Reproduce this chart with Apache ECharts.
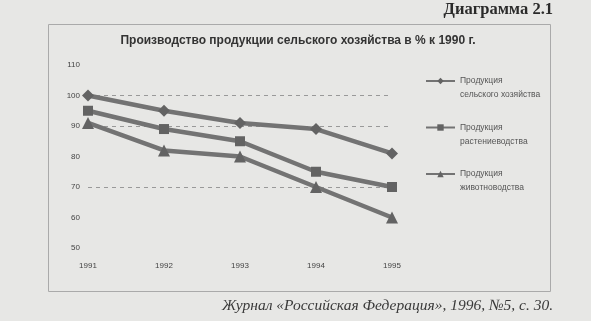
<!DOCTYPE html>
<html><head><meta charset="utf-8">
<script src="https://cdn.jsdelivr.net/npm/echarts@6/dist/echarts.min.js"></script>
<style>html,body{margin:0;padding:0;background:#e7e7e5;}#c{width:591px;height:321px;}</style>
</head><body><div id="c"></div>
<script>
const years = ['1991', '1992', '1993', '1994', '1995'];
const agriculture = [100, 95, 91, 89, 81];
const cropProduction = [95, 89, 85, 75, 70];
const livestock = [91, 82, 80, 70, 60];
const seriesNames = ['Продукция\nсельского хозяйства', 'Продукция\nрастениеводства', 'Продукция\nживотноводства'];
const yTicks = [50, 60, 70, 80, 90, 100, 110];
const gridValues = [70, 90, 100];

const chart = echarts.init(document.getElementById('c'), null, {renderer: 'canvas'});
const lineColor = '#737373';
const mk = (name, data, symbol, size) => ({
  name, type: 'line', data, symbol, symbolSize: size,
  lineStyle: {color: lineColor, width: 4.5},
  itemStyle: {color: '#636363'},
  emphasis: {disabled: true}
});
chart.setOption({
  backgroundColor: '#e7e7e5',
  animation: false,
  title: [
    {text: 'Диаграмма 2.1', right: 38, top: 1, padding: 0, textStyle: {fontFamily: 'Liberation Serif', fontWeight: 'bold', fontSize: 16.5, color: '#2a2a2a'}},
    {text: 'Производство продукции сельского хозяйства в % к 1990 г.', left: 298, textAlign: 'center', top: 35, padding: 0, textStyle: {fontFamily: 'Liberation Sans', fontWeight: 'bold', fontSize: 12, color: '#333'}},
    {text: 'Журнал «Российская Федерация», 1996, №5, с. 30.', right: 38, top: 298, padding: 0, textStyle: {fontFamily: 'Liberation Serif', fontStyle: 'italic', fontWeight: 'normal', fontSize: 15.5, color: '#3a3a3a'}}
  ],
  graphic: [{type: 'rect', shape: {x: 48.5, y: 24.5, width: 502, height: 267}, style: {fill: 'none', stroke: '#aaa', lineWidth: 1}, silent: true}],
  grid: {left: 88, right: 199, top: 65, bottom: 73},
  xAxis: {
    type: 'category', data: years, boundaryGap: false,
    axisLine: {show: false}, axisTick: {show: false},
    axisLabel: {margin: 14, fontSize: 8, color: '#444', fontFamily: 'Liberation Sans'}
  },
  yAxis: {
    type: 'value', min: yTicks[0], max: yTicks[yTicks.length - 1], interval: 10,
    axisLine: {show: false}, axisTick: {show: false},
    axisLabel: {margin: 8, fontSize: 8, color: '#444', fontFamily: 'Liberation Sans'},
    splitLine: {show: true, lineStyle: {type: [4, 4], width: 1,
      color: yTicks.map(v => gridValues.includes(v) ? '#999' : 'rgba(0,0,0,0)')}}
  },
  legend: {
    orient: 'vertical', left: 425, top: 60, padding: 0, itemGap: 4.5, itemWidth: 29, itemHeight: 8,
    data: seriesNames,
    formatter: name => ' \n' + name,
    textStyle: {fontSize: 8.5, color: '#555', fontFamily: 'Liberation Sans', lineHeight: 14}
  },
  series: [
    mk(seriesNames[0], agriculture, 'diamond', 12),
    mk(seriesNames[1], cropProduction, 'rect', 10),
    mk(seriesNames[2], livestock, 'triangle', 12)
  ]
});
</script></body></html>
